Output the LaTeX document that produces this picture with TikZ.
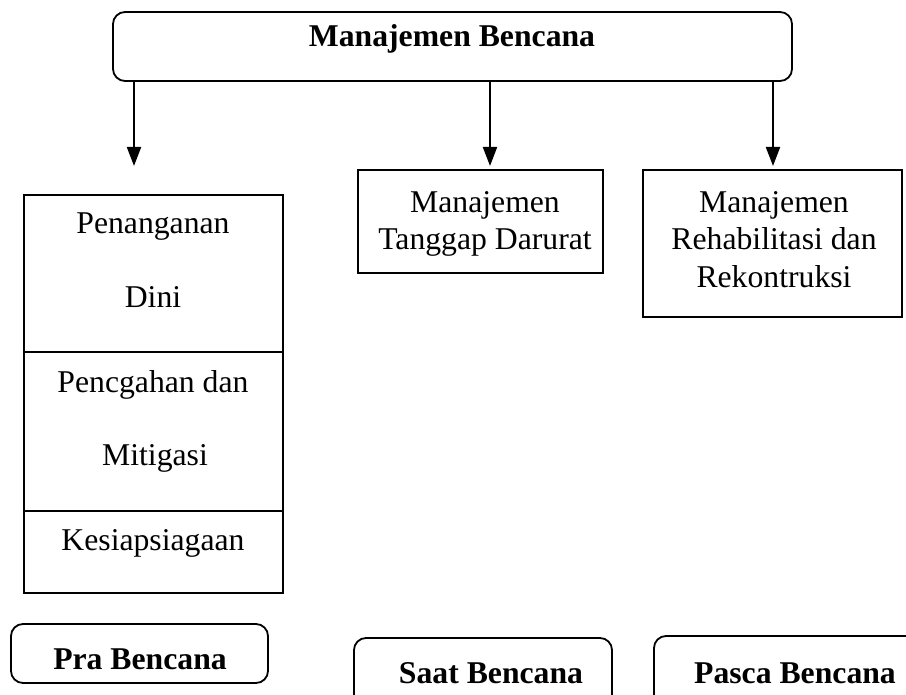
\documentclass[tikz,border=0pt]{standalone}
\usepackage{fontspec}
\setmainfont{Liberation Serif}
\usetikzlibrary{arrows.meta}
\begin{document}
\begin{tikzpicture}[x=0.5pt,y=-0.5pt,
  sqbox/.style={draw, line width=1.2pt, rectangle, inner sep=0pt},
  rbox/.style={draw, line width=0.9pt, rounded corners=6pt, rectangle, inner sep=0pt},
  lbl/.style={anchor=base, inner sep=0pt, font=\fontsize{15.85}{19}\selectfont},
  blbl/.style={anchor=base, inner sep=0pt, font=\fontsize{15.85}{19}\selectfont\bfseries},
  arr/.style={line width=1pt, -{Triangle[width=7pt,length=9.5pt]}},
  divline/.style={line width=1.2pt}
]
\path[use as bounding box] (0,0) rectangle (906,695);
\clip (0,0) rectangle (906,695);

% top box
\node[rbox, minimum width=339.5pt, minimum height=34.5pt] (top) at (452.5,46.5) {};
\node[blbl] (toplbl) at (452,47) {Manajemen Bencana};

% arrow ends
\coordinate (a1) at (134,166);
\coordinate (a2) at (490,166);
\coordinate (a3) at (773,166);
\draw[arr] (top.south -| a1) -- (a1);
\draw[arr] (top.south -| a2) -- (a2);
\draw[arr] (top.south -| a3) -- (a3);

% left stacked box
\node[sqbox, minimum width=129.5pt, minimum height=199pt] (pra) at (153.5,394) {};
\coordinate (d1) at (0,352);
\coordinate (d2) at (0,511);
\draw[divline] (pra.west |- d1) -- (pra.east |- d1);
\draw[divline] (pra.west |- d2) -- (pra.east |- d2);
\node[lbl] (t1) at (153,234) {Penanganan};
\node[lbl] (t2) at (153,308) {Dini};
\node[lbl] (t3) at (153,393) {Pencgahan dan};
\node[lbl] (t4) at (155,466) {Mitigasi};
\node[lbl] (t5) at (153,551) {Kesiapsiagaan};

% middle box
\node[sqbox, minimum width=122.5pt, minimum height=51.5pt] (saat) at (480.5,221.5) {};
\node[lbl] (m1) at (485,213) {Manajemen};
\node[lbl] (m2) at (485,250) {Tanggap Darurat};

% right box
\node[sqbox, minimum width=129.5pt, minimum height=73.5pt] (pasca) at (772.5,243.5) {};
\node[lbl] (r1) at (774,213) {Manajemen};
\node[lbl] (r2) at (774,250) {Rehabilitasi dan};
\node[lbl] (r3) at (774,288) {Rekontruksi};

% bottom boxes
\node[rbox, minimum width=128.5pt, minimum height=29.5pt] (b1) at (139.5,653.5) {};
\node[blbl] (b1l) at (140,669) {Pra Bencana};
\node[rbox, minimum width=129pt, minimum height=41pt] (b2) at (483,679) {};
\node[blbl] (b2l) at (491,683) {Saat Bencana};
\node[rbox, minimum width=140pt, minimum height=42pt] (b3) at (794,678) {};
\node[blbl] (b3l) at (795,683) {Pasca Bencana};
\end{tikzpicture}
\end{document}
